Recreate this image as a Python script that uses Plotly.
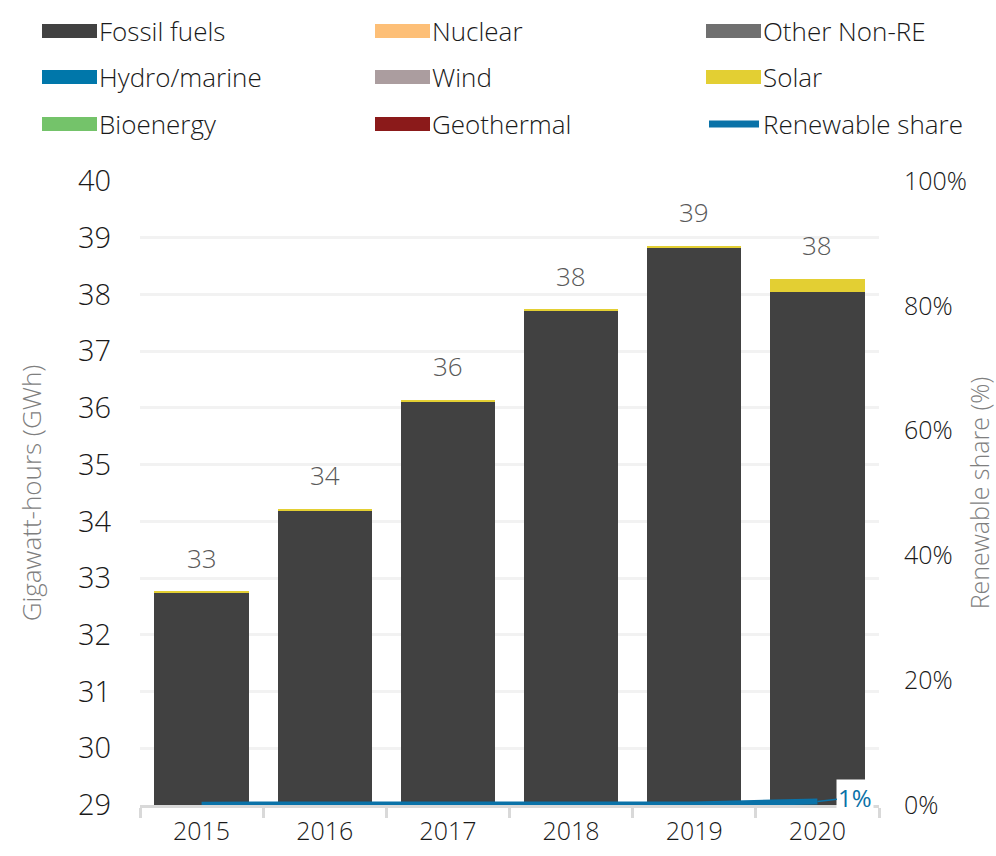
import plotly.graph_objects as go

years = ["2015", "2016", "2017", "2018", "2019", "2020"]
fossil = [32.74, 34.19, 36.12, 37.71, 38.83, 38.05]
nuclear = [0, 0, 0, 0, 0, 0]
other_non_re = [0, 0, 0, 0, 0, 0]
hydro = [0, 0, 0, 0, 0, 0]
wind = [0, 0, 0, 0, 0, 0]
solar = [0.02, 0.02, 0.02, 0.02, 0.03, 0.22]
bioenergy = [0, 0, 0, 0, 0, 0]
geothermal = [0, 0, 0, 0, 0, 0]
ren_share = [0.0006, 0.0006, 0.0006, 0.0006, 0.0008, 0.0058]

FONT = "Open Sans"
TXT = "#1a1a1a"
GREY = "#7f7f7f"
W = 300

series = [
    ("Fossil fuels", fossil, "#414141", None),
    ("Nuclear", nuclear, "#FDBF77", None),
    ("Other Non-RE", other_non_re, "#4a4a4a", "."),
    ("Hydro/marine", hydro, "#0077AA", None),
    ("Wind", wind, "#AB9D9F", None),
    ("Solar", solar, "#E3CF33", None),
    ("Bioenergy", bioenergy, "#74C36A", None),
    ("Geothermal", geothermal, "#8B1A1A", None),
]
LINE_COL = "#0A72A8"

fig = go.Figure()
for name, vals, col, pat in series:
    marker = dict(color=col, line=dict(width=0))
    if pat:
        marker["pattern"] = dict(shape=pat, fgcolor="white", bgcolor=col)
    fig.add_trace(go.Bar(x=years, y=vals, name=name, marker=marker,
                         showlegend=False, hoverinfo="skip"))

fig.add_trace(go.Scatter(x=years, y=ren_share, name="Renewable share", mode="lines",
                         line=dict(color=LINE_COL, width=6), yaxis="y2",
                         showlegend=False, hoverinfo="skip"))

totals = [sum(v) for v in zip(fossil, nuclear, other_non_re, hydro, wind, solar, bioenergy, geothermal)]
annotations = []
for i, t in enumerate(totals):
    annotations.append(dict(x=i, y=t, xref="x", yref="y", text=f"{round(t):d}", showarrow=False,
                            yanchor="bottom", yshift=14,
                            font=dict(family=FONT, size=26, color="#595959", weight=W)))

annotations.append(dict(x=len(years) - 1, y=ren_share[-1], xref="x", yref="y2",
                        text=f"{ren_share[-1]*100:.0f}%",
                        showarrow=True, arrowhead=0, arrowcolor=LINE_COL, arrowwidth=1.5,
                        ax=38, ay=-4, bgcolor="white",
                        font=dict(family=FONT, size=24, color=LINE_COL, weight=400)))

# manual legend
L, R, T, B = 140, 879, 181, 805
def px(x):
    return (x - L) / (R - L)
def py(y):
    return (B - y) / (B - T)

legend_items = [
    ("Fossil fuels", "#414141", 42, 31), ("Nuclear", "#FDBF77", 375, 31), ("Other Non-RE", "#707070", 706, 31),
    ("Hydro/marine", "#0077AA", 42, 77), ("Wind", "#AB9D9F", 375, 77), ("Solar", "#E3CF33", 706, 77),
    ("Bioenergy", "#74C36A", 42, 124), ("Geothermal", "#8B1A1A", 375, 124), ("Renewable share", None, 706, 124),
]
shapes = []
for name, col, x0, yc in legend_items:
    if col:
        shapes.append(dict(type="rect", xref="paper", yref="paper", x0=px(x0), x1=px(x0 + 55),
                           y0=py(yc + 7), y1=py(yc - 7), fillcolor=col, line=dict(width=0)))
    else:
        shapes.append(dict(type="line", xref="paper", yref="paper", x0=px(x0 + 3), x1=px(x0 + 53),
                           y0=py(yc), y1=py(yc), line=dict(color=LINE_COL, width=7)))
    annotations.append(dict(xref="paper", yref="paper", x=px(x0 + 55), y=py(yc), text=name,
                            showarrow=False, xanchor="left", yanchor="middle",
                            font=dict(family=FONT, size=26, color=TXT, weight=W)))

fig.update_layout(
    width=996, height=856,
    margin=dict(l=L, r=996 - R, t=T, b=856 - B, autoexpand=False),
    paper_bgcolor="white", plot_bgcolor="white",
    barmode="stack", bargap=0.235,
    showlegend=False,
    font=dict(family=FONT, color=TXT, weight=W),
    xaxis=dict(type="category", categoryorder="array", categoryarray=years,
               range=[-0.5, len(years) - 0.5], autorange=False,
               automargin=False, showgrid=False, showline=True, linecolor="#d9d9d9", linewidth=3,
               ticks="outside", tickson="boundaries", ticklen=10, tickwidth=3, tickcolor="#d9d9d9",
               tickangle=0,
               tickfont=dict(size=25, color=TXT, family=FONT, weight=W), ticklabelstandoff=2),
    yaxis=dict(range=[29, 40], dtick=1, automargin=False, showgrid=True, gridcolor="#f2f2f2", gridwidth=3,
               zeroline=False, showline=False, ticks="",
               tickfont=dict(size=29, color=TXT, family=FONT, weight=W), ticklabelstandoff=28,
               title=dict(text="Gigawatt-hours (GWh)", font=dict(size=26, color=GREY, family=FONT, weight=W),
                          standoff=28)),
    yaxis2=dict(range=[0, 1], dtick=0.2, tickformat=".0%", overlaying="y", side="right", automargin=False,
                showgrid=False, zeroline=False, showline=False,
                tickfont=dict(size=25, color=TXT, family=FONT, weight=W), ticklabelstandoff=24,
                title=dict(text="Renewable share (%)", font=dict(size=25, color=GREY, family=FONT, weight=W),
                           standoff=12)),
    annotations=annotations,
    shapes=shapes,
)

fig.write_html("out.html", config={"displayModeBar": False},
               post_script="document.body.style.margin='0';")
